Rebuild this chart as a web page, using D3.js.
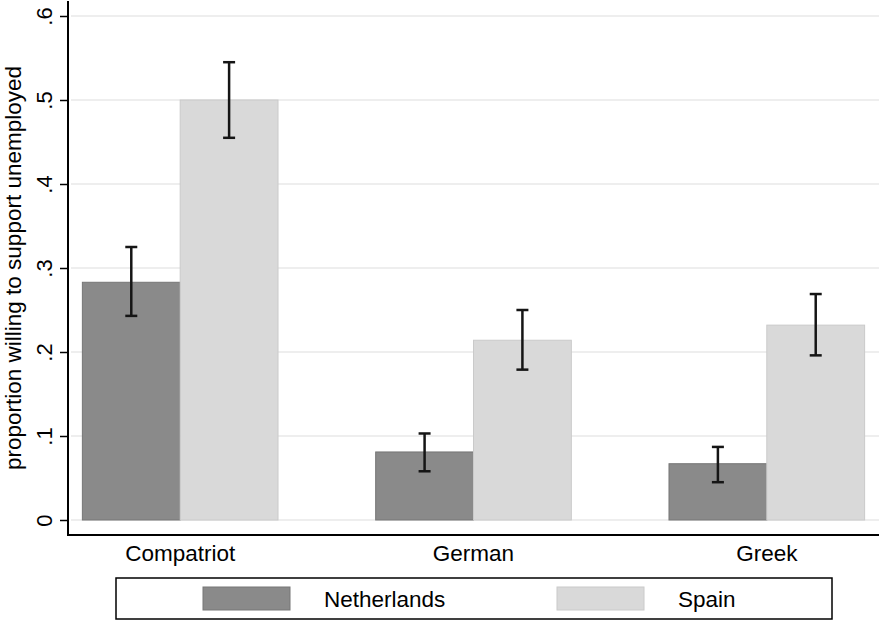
<!DOCTYPE html>
<html>
<head>
<meta charset="utf-8">
<script src="https://cdn.jsdelivr.net/npm/d3@7"></script>
<style>
  body { margin: 0; background: #fff; }
  text { font-family: "Liberation Sans", Arial, sans-serif; fill: #000; }
</style>
</head>
<body>
<div id="chart"></div>
<script>
// data
var categories = ["Compatriot", "German", "Greek"];
var series = ["Netherlands", "Spain"];
var netherlands = [0.283, 0.081, 0.067];
var netherlandsLo = [0.243, 0.058, 0.045];
var netherlandsHi = [0.325, 0.103, 0.087];
var spain = [0.500, 0.214, 0.232];
var spainLo = [0.455, 0.179, 0.196];
var spainHi = [0.545, 0.250, 0.269];
var yTicks = [0, 0.1, 0.2, 0.3, 0.4, 0.5, 0.6];

var width = 883, height = 624;
var plotLeft = 68, plotRight = 879, plotTop = 16, zeroY = 520, axisY = 535;

var rows = [];
categories.forEach(function (c, i) {
  rows.push({ cat: c, s: "Netherlands", v: netherlands[i], lo: netherlandsLo[i], hi: netherlandsHi[i] });
  rows.push({ cat: c, s: "Spain", v: spain[i], lo: spainLo[i], hi: spainHi[i] });
});

var fill = { Netherlands: "#8a8a8a", Spain: "#d9d9d9" };
var edge = { Netherlands: "#767676", Spain: "#cacaca" };

var svg = d3
  .select("#chart")
  .append("svg")
  .attr("width", width)
  .attr("height", height);

var x = d3
  .scaleBand()
  .domain(categories)
  .range([plotLeft, plotRight])
  .paddingInner(0.333)
  .paddingOuter(0.049);

var xs = d3.scaleBand().domain(series).range([0, x.bandwidth()]);

var y = d3.scaleLinear().domain([0, 0.6]).range([zeroY, plotTop]);

// gridlines
svg
  .append("g")
  .selectAll("line")
  .data(yTicks)
  .enter()
  .append("line")
  .attr("x1", plotLeft + 3)
  .attr("x2", plotRight)
  .attr("y1", function (d) { return y(d); })
  .attr("y2", function (d) { return y(d); })
  .style("stroke", "#e8e8e8")
  .style("stroke-width", 1.5);

// bars
svg
  .append("g")
  .selectAll("rect")
  .data(rows)
  .enter()
  .append("rect")
  .attr("x", function (d) { return x(d.cat) + xs(d.s); })
  .attr("y", function (d) { return y(d.v); })
  .attr("width", xs.bandwidth())
  .attr("height", function (d) { return y(0) - y(d.v); })
  .style("fill", function (d) { return fill[d.s]; })
  .style("stroke", function (d) { return edge[d.s]; })
  .style("stroke-width", 1);

// error bars
var eb = svg
  .append("g")
  .selectAll("g")
  .data(rows)
  .enter()
  .append("g")
  .attr("transform", function (d) {
    return "translate(" + (x(d.cat) + xs(d.s) + xs.bandwidth() / 2) + ",0)";
  })
  .style("stroke", "#151515")
  .style("stroke-width", 2.5);

eb.append("line")
  .attr("y1", function (d) { return y(d.lo); })
  .attr("y2", function (d) { return y(d.hi); });
eb.append("line")
  .attr("x1", -6).attr("x2", 6)
  .attr("y1", function (d) { return y(d.lo); })
  .attr("y2", function (d) { return y(d.lo); });
eb.append("line")
  .attr("x1", -6).attr("x2", 6)
  .attr("y1", function (d) { return y(d.hi); })
  .attr("y2", function (d) { return y(d.hi); });

// y axis
var yAxis = d3
  .axisLeft(y)
  .tickValues(yTicks)
  .tickSize(8)
  .tickPadding(8)
  .tickFormat(function (d) { return d === 0 ? "0" : d3.format(".1f")(d).replace(/^0/, ""); });

var ya = svg
  .append("g")
  .attr("transform", "translate(" + plotLeft + ",0)")
  .call(yAxis);
ya.select(".domain").remove();
ya.selectAll(".tick line").style("stroke", "#000").style("stroke-width", 1.5);
ya.selectAll(".tick text")
  .attr("x", null)
  .attr("dy", null)
  .attr("transform", "translate(-16,0) rotate(-90)")
  .attr("text-anchor", "middle")
  .style("font-size", "22px");

svg.append("line")
  .attr("x1", plotLeft).attr("x2", plotLeft)
  .attr("y1", 1).attr("y2", axisY)
  .style("stroke", "#000").style("stroke-width", 2);

svg.append("line")
  .attr("x1", plotLeft - 1).attr("x2", plotRight)
  .attr("y1", axisY).attr("y2", axisY)
  .style("stroke", "#000").style("stroke-width", 2);

// category labels
svg
  .append("g")
  .selectAll("text")
  .data(categories)
  .enter()
  .append("text")
  .attr("x", function (d) { return x(d) + x.bandwidth() / 2; })
  .attr("y", 561)
  .attr("text-anchor", "middle")
  .style("font-size", "22.5px")
  .text(function (d) { return d; });

// y title
svg
  .append("text")
  .attr("transform", "translate(21," + (zeroY + plotTop) / 2 + ") rotate(-90)")
  .attr("text-anchor", "middle")
  .style("font-size", "22.5px")
  .text("proportion willing to support unemployed");

// legend
var legend = svg.append("g").attr("class", "legend");
legend
  .append("rect")
  .attr("x", 116)
  .attr("y", 578)
  .attr("width", 716)
  .attr("height", 41)
  .style("fill", "#fff")
  .style("stroke", "#000")
  .style("stroke-width", 1.5);

var lx = d3.scalePoint().domain(series).range([203, 557]);
var items = legend
  .selectAll("g")
  .data(series)
  .enter()
  .append("g")
  .attr("transform", function (d) { return "translate(" + lx(d) + ",587)"; });
items
  .append("rect")
  .attr("width", 87)
  .attr("height", 23)
  .style("fill", function (d) { return fill[d]; })
  .style("stroke", function (d) { return edge[d]; })
  .style("stroke-width", 1);
items
  .append("text")
  .attr("x", 121)
  .attr("y", 20)
  .style("font-size", "22.5px")
  .text(function (d) { return d; });
</script>
</body>
</html>
